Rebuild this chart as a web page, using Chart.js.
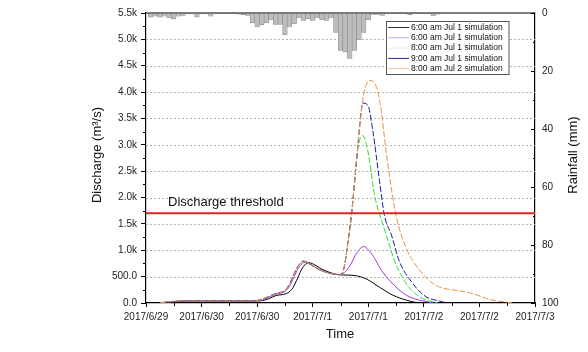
<!DOCTYPE html>
<html><head><meta charset="utf-8">
<script src="https://cdn.jsdelivr.net/npm/chart.js@4"></script>
<style>html,body{margin:0;padding:0;background:#fff;}#wrap{width:588px;height:352px;position:relative;}</style>
</head><body><div id="wrap"><canvas id="c" width="588" height="352"></canvas></div>
<script>
// ---- tick labels ----
const xTickLabels = ['2017/6/29','2017/6/30','2017/6/30','2017/7/1','2017/7/1','2017/7/2','2017/7/2','2017/7/3'];
const yTickLabels = ['0.0','500.0','1.0k','1.5k','2.0k','2.5k','3.0k','3.5k','4.0k','4.5k','5.0k','5.5k'];
const rainTickLabels = ['0','20','40','60','80','100'];
const seriesNames = ['6:00 am Jul 1 simulation','6:00 am Jul 1 simulation','8:00 am Jul 1 simulation','9:00 am Jul 1 simulation','8:00 am Jul 2 simulation'];
const thresholdLabel = 'Discharge threshold';
const thresholdValue = 1700;

// ---- hourly rainfall (mm), hour 1, 2, 3, ... ----
const rainfall = [1.4,1.1,1.4,1.1,1.7,2.0,1.1,0.8,0.3,0.3,1.4,0.3,0.2,1.1,0.2,0.2,0.2,0.2,0.2,0.4,
  0.6,0.8,3.4,4.8,4.1,3.4,2.3,3.9,3.9,7.5,4.8,3.7,1.7,2.6,2.0,2.6,1.7,2.3,2.6,1.7,
  6.7,12.9,13.4,15.7,12.9,9.2,6.7,2.3,0.5,0.5,0.8,0.3,0.2,0.2,0.2,0.3,0.6,0.2,0.2,0.2,
  0.2,1.0,0.4];

// ---- discharge series (time in hours from 2017/6/29 12:00, m3/s) ----
const blackT = [3,5,8,12,18,24,25,26.5,28,30.3,31.5,32.5,33.5,34.5,35.3,36.5,38,40,41.8,43.5,45.4,47.6,50.4,53.3,56.2,58,59.7];
const blackQ = [0,20,35,40,40,40,45,80,140,179,260,425,620,740,762,720,640,570,535,530,517,455,301,148,55,15,0];
const purpleT = [3,5,8,12,18,24,25,26.2,28,30,31,32,33,34,34.6,35.5,37,39,41,42.5,44,45.5,47,48.5,49.7,51,52.6,54.5,56.2,58,59.7,62];
const purpleQ = [0,22,36,41,41,41,50,95,165,220,320,500,680,765,775,740,650,580,540,560,700,950,1070,960,794,600,425,260,148,80,43,0];
const greenT = [3,5,8,12,18,23,24.5,26,28,30,31,32,33,34,35,36,38,40,42,42.8,43.6,44.4,45.8,46.8,47.9,49.4,50.2,51.9,53.7,56.2,58,59.7,61.5,63];
const greenQ = [0,25,38,42,42,42,55,105,180,240,360,560,720,795,760,700,610,560,535,680,1150,1700,2950,3175,2885,2025,1750,1290,794,363,190,87,30,0];
const blueT = [3,5,8,12,18,23,24.5,26,28,30,31,32,33,34,35,36,38,40,42,42.8,43.6,44.4,45.4,46.2,46.8,47.9,49,50.4,51.5,53,54.7,57.6,60.5,63.4,65];
const blueQ = [0,25,38,42,42,42,55,105,180,240,360,560,720,795,760,700,610,560,535,680,1150,1700,2640,3400,3790,3750,3255,2330,1660,1290,794,370,117,37,0];
const orangeT = [3,5,8,12,18,23,24.5,26,28,30,31,32,33,34,35,36,38,40,42,42.8,43.6,44.4,45.4,46.2,47,48.3,49,50.4,52.2,54,56.2,58,59.8,61.5,63.4,65,67,70.5,74.1,77.7,79.5];
const orangeQ = [0,25,38,42,42,42,55,105,180,240,360,560,720,795,760,700,610,560,535,680,1150,1700,2640,3400,3950,4222,4210,3870,2640,1660,1040,750,548,400,301,265,240,179,68,18,0];

const pts = (t, q) => t.map((x, i) => ({x: x, y: q[i]}));
const rainPts = rainfall.map((v, i) => ({x: i + 1, y: v}));

const FONT = 'Liberation Sans, Arial, Helvetica, sans-serif';
Chart.defaults.font.family = FONT;

const lineColors = ['#000000', '#9a3be0', '#33dd33', '#1a1aaa', '#ee9040'];
const legendColors = ['#333333', '#c9a6f2', '#e4eee4', '#2a2a9a', '#f3c79e'];

const lineDs = (label, t, q, color, dash, order) => ({
  type: 'line', label: label, data: pts(t, q), yAxisID: 'y', borderColor: color, borderWidth: 1,
  borderDash: dash, pointRadius: 0, cubicInterpolationMode: 'monotone', fill: false, order: order
});

const extras = {
  id: 'extras',
  beforeDatasetsDraw(chart) {
    const ctx = chart.ctx, a = chart.chartArea, y = chart.scales.y;
    ctx.save();
    ctx.strokeStyle = '#b5b5b5'; ctx.lineWidth = 1; ctx.setLineDash([2, 2]);
    for (let v = 500; v <= 5000; v += 500) {
      const py = Math.round(y.getPixelForValue(v)) + 0.5;
      ctx.beginPath(); ctx.moveTo(a.left, py); ctx.lineTo(a.right, py); ctx.stroke();
    }
    ctx.restore();
  },
  afterDraw(chart) {
    const ctx = chart.ctx, a = chart.chartArea, x = chart.scales.x, y = chart.scales.y, y2 = chart.scales.y2;
    ctx.save();
    ctx.setLineDash([]);
    // top frame
    ctx.strokeStyle = '#555'; ctx.lineWidth = 1.5;
    ctx.beginPath(); ctx.moveTo(a.left, a.top); ctx.lineTo(a.right, a.top); ctx.stroke();
    ctx.strokeStyle = '#000'; ctx.lineWidth = 1;
    // left minor ticks
    for (let v = 250; v < 5500; v += 500) {
      const py = Math.round(y.getPixelForValue(v)) + 0.5;
      ctx.beginPath(); ctx.moveTo(a.left - 3, py); ctx.lineTo(a.left, py); ctx.stroke();
    }
    // x minor ticks
    for (let h = 6; h < 84; h += 12) {
      const px = Math.round(x.getPixelForValue(h)) + 0.5;
      ctx.beginPath(); ctx.moveTo(px, a.bottom); ctx.lineTo(px, a.bottom + 3); ctx.stroke();
    }
    // right axis ticks (inward)
    for (let v = 0; v <= 100; v += 10) {
      const py = Math.round(y2.getPixelForValue(v)) + 0.5;
      const len = (v % 20 === 0) ? 4 : 2;
      ctx.beginPath(); ctx.moveTo(a.right - len, py); ctx.lineTo(a.right, py); ctx.stroke();
    }
    // axis titles
    ctx.fillStyle = '#111';
    ctx.font = '13px ' + FONT;
    ctx.textAlign = 'center'; ctx.textBaseline = 'middle';
    ctx.fillText('Time', 340, 334);
    ctx.save(); ctx.translate(97, 155); ctx.rotate(-Math.PI / 2); ctx.fillText('Discharge (m\u00B3/s)', 0, 0); ctx.restore();
    ctx.save(); ctx.translate(573, 155); ctx.rotate(-Math.PI / 2); ctx.fillText('Rainfall (mm)', 0, 0); ctx.restore();
    // threshold label
    ctx.textAlign = 'left';
    ctx.fillText(thresholdLabel, 168, y.getPixelForValue(thresholdValue) - 11);
    // legend
    ctx.fillStyle = '#fff';
    ctx.fillRect(386.5, 21.5, 122.5, 53);
    ctx.strokeStyle = '#555'; ctx.lineWidth = 1;
    ctx.strokeRect(386.5, 21.5, 122.5, 53);
    const rows = [27, 37.3, 47.6, 57.9, 68.2];
    ctx.font = '8.5px ' + FONT;
    ctx.textBaseline = 'middle';
    seriesNames.forEach((n, i) => {
      ctx.strokeStyle = legendColors[i]; ctx.lineWidth = 1;
      ctx.beginPath(); ctx.moveTo(388, rows[i] + 0.5); ctx.lineTo(409, rows[i] + 0.5); ctx.stroke();
      ctx.fillStyle = '#111';
      ctx.fillText(n, 411, rows[i] + 0.5);
    });
    ctx.restore();
  }
};

new Chart(document.getElementById('c'), {
  type: 'line',
  data: {
    datasets: [
      {type: 'line', label: 'threshold', data: [{x: 0, y: thresholdValue}, {x: 84, y: thresholdValue}], yAxisID: 'y',
        borderColor: '#ee1c1c', borderWidth: 2, pointRadius: 0, order: 0},
      lineDs(seriesNames[0], blackT, blackQ, lineColors[0], [], 5),
      lineDs(seriesNames[1], purpleT, purpleQ, lineColors[1], [], 4),
      lineDs(seriesNames[2], greenT, greenQ, lineColors[2], [6, 2], 3),
      lineDs(seriesNames[3], blueT, blueQ, lineColors[3], [6, 2], 2),
      lineDs(seriesNames[4], orangeT, orangeQ, lineColors[4], [6, 2], 1),
      {type: 'bar', label: 'Rainfall', data: rainPts, yAxisID: 'y2', backgroundColor: '#bdbdbd',
        borderColor: '#8a8a8a', borderWidth: 0.6, barPercentage: 1, categoryPercentage: 1, order: 6}
    ]
  },
  options: {
    responsive: false, animation: false, devicePixelRatio: 1,
    layout: {padding: {top: 5, left: 0, right: 0, bottom: 0}},
    plugins: {legend: {display: false}, tooltip: {enabled: false}},
    scales: {
      x: {
        type: 'linear', position: 'bottom', min: 0, max: 84, offset: false,
        ticks: {stepSize: 12, autoSkip: false, maxRotation: 0, padding: 4, color: '#222', font: {size: 10},
          callback: (v) => xTickLabels[Math.round(v / 12)]},
        grid: {drawOnChartArea: false, tickLength: 4, tickColor: '#000', offset: false},
        border: {color: '#000', width: 1.2},
        afterFit: s => { s.height = 49; }
      },
      y: {
        position: 'left', min: 0, max: 5500,
        ticks: {stepSize: 500, padding: 4, color: '#222', font: {size: 10},
          callback: (v) => yTickLabels[Math.round(v / 500)]},
        grid: {drawOnChartArea: false, tickLength: 5, tickColor: '#000'},
        border: {color: '#000', width: 1.2},
        afterFit: s => { s.width = 146; }
      },
      y2: {
        position: 'right', min: 0, max: 100, reverse: true,
        ticks: {stepSize: 20, padding: 7, color: '#222', font: {size: 10},
          callback: (v) => rainTickLabels[Math.round(v / 20)]},
        grid: {drawOnChartArea: false, drawTicks: false},
        border: {color: '#000', width: 1.2},
        afterFit: s => { s.width = 53; }
      }
    }
  },
  plugins: [extras]
});
</script></body></html>
